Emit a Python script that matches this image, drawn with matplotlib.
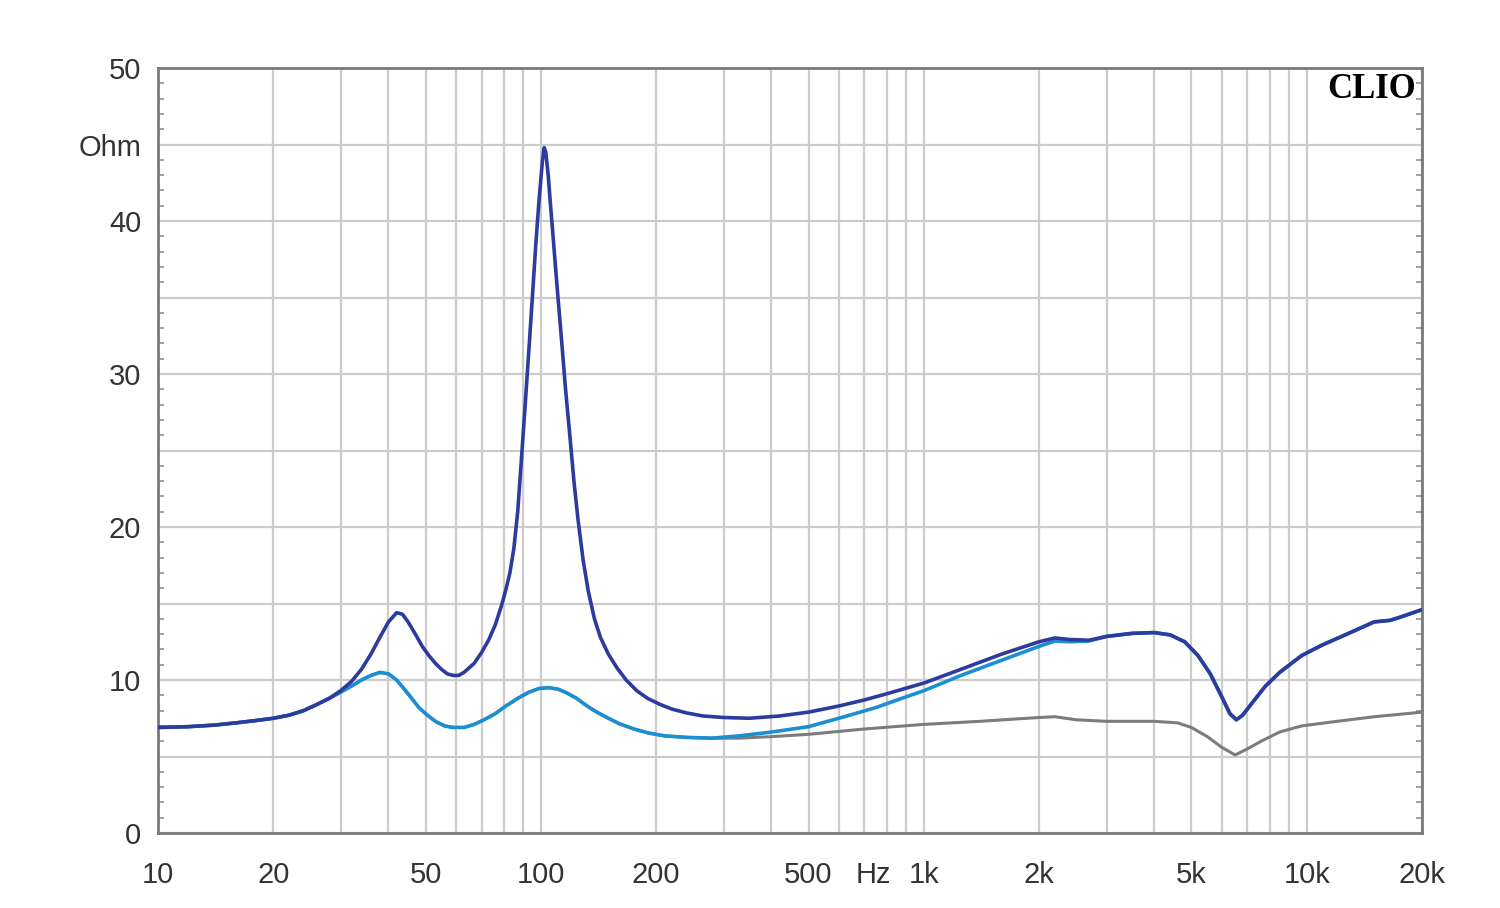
import numpy as np
import matplotlib
matplotlib.use("Agg")
from matplotlib import pyplot as plt
from matplotlib.ticker import FixedLocator, LogLocator, MultipleLocator, FuncFormatter

# impedance curves (Hz, Ohm)
freq_dark = [10, 12, 14, 16, 18, 20, 22, 24, 26, 28, 30, 32, 34, 36, 38, 40, 42, 43.5, 45, 47,
             49, 51, 53, 55, 57, 59, 61, 63, 65, 67, 70, 73, 76, 79, 81, 83, 85, 87, 89, 91, 93,
             95, 97, 99, 101, 102, 103, 104.5, 106, 108, 110, 113, 116, 119, 122, 125, 129, 133,
             138, 143, 150, 158, 167, 178, 190, 205, 220, 240, 265, 300, 350, 420, 500, 600, 700,
             800, 1000, 1250, 1600, 2000, 2200, 2400, 2700, 3000, 3500, 4000, 4400, 4800, 5200,
             5600, 6000, 6300, 6550, 6800, 7200, 7800, 8500, 9700, 11000, 13000, 15000, 16500,
             17500, 20000]
z_dark = [6.9, 6.95, 7.05, 7.2, 7.35, 7.5, 7.7, 8.0, 8.4, 8.8, 9.3, 9.9, 10.7, 11.7, 12.8, 13.8,
          14.4, 14.3, 13.8, 13.0, 12.2, 11.6, 11.1, 10.7, 10.4, 10.3, 10.3, 10.5, 10.8, 11.1, 11.8,
          12.6, 13.6, 14.9, 15.9, 17.0, 18.6, 21.0, 24.5, 28.0, 31.5, 35.0, 38.5, 41.5, 44.0, 44.8,
          44.5, 43.0, 41.0, 38.5, 36.0, 32.5, 29.0, 26.0, 23.0, 20.5, 17.8, 15.8, 14.0, 12.8, 11.7,
          10.8, 10.0, 9.3, 8.8, 8.4, 8.1, 7.85, 7.65, 7.55, 7.5, 7.65, 7.9, 8.3, 8.7, 9.1, 9.8,
          10.7, 11.7, 12.5, 12.75, 12.65, 12.6, 12.85, 13.05, 13.1, 12.95, 12.5, 11.6, 10.4, 8.9,
          7.8, 7.4, 7.7, 8.5, 9.6, 10.5, 11.6, 12.3, 13.1, 13.8, 13.9, 14.1, 14.6]

freq_light = [10, 12, 14, 16, 18, 20, 22, 24, 26, 28, 30, 32, 34, 36, 38, 40, 42, 44, 46, 48,
              50, 53, 56, 59, 63, 67, 71, 76, 81, 87, 93, 99, 105, 111, 117, 124, 132, 140, 150,
              160, 175, 190, 210, 240, 280, 330, 400, 500, 600, 750, 875, 1000, 1250, 1600, 2000,
              2200, 2400, 2700, 3000, 3500, 4000, 4400, 4800, 5200, 5600, 6000, 6300, 6550, 6800,
              7200, 7800, 8500, 9700, 11000, 13000, 15000, 16500, 17500, 20000]
z_light = [6.9, 6.95, 7.05, 7.2, 7.35, 7.5, 7.7, 8.0, 8.4, 8.8, 9.2, 9.6, 10.0, 10.3, 10.5, 10.4,
           10.0, 9.4, 8.8, 8.2, 7.8, 7.3, 7.0, 6.9, 6.9, 7.1, 7.4, 7.8, 8.3, 8.8, 9.2, 9.45, 9.5,
           9.4, 9.15, 8.8, 8.3, 7.9, 7.5, 7.15, 6.8, 6.55, 6.35, 6.25, 6.2, 6.35, 6.6, 6.95, 7.5,
           8.2, 8.8, 9.3, 10.3, 11.3, 12.2, 12.55, 12.5, 12.55, 12.85, 13.05, 13.1, 12.95, 12.5,
           11.6, 10.4, 8.9, 7.8, 7.4, 7.7, 8.5, 9.6, 10.5, 11.6, 12.3, 13.1, 13.8, 13.9, 14.1, 14.6]

freq_gray = [10, 12, 14, 16, 18, 20, 22, 24, 26, 28, 30, 32, 34, 36, 38, 40, 42, 44, 46, 48, 50,
             53, 56, 59, 63, 67, 71, 76, 81, 87, 93, 99, 105, 111, 117, 124, 132, 140, 150, 160,
             175, 190, 210, 240, 280, 330, 400, 500, 700, 1000, 1400, 2000, 2200, 2500, 3000,
             4000, 4600, 5000, 5500, 6000, 6500, 7000, 7600, 8500, 9700, 12000, 15000, 20000]
z_gray = [6.9, 6.95, 7.05, 7.2, 7.35, 7.5, 7.7, 8.0, 8.4, 8.8, 9.2, 9.6, 10.0, 10.3, 10.5, 10.4,
          10.0, 9.4, 8.8, 8.2, 7.8, 7.3, 7.0, 6.9, 6.9, 7.1, 7.4, 7.8, 8.3, 8.8, 9.2, 9.45, 9.5,
          9.4, 9.15, 8.8, 8.3, 7.9, 7.5, 7.15, 6.8, 6.55, 6.35, 6.25, 6.2, 6.2, 6.3, 6.45, 6.8,
          7.1, 7.3, 7.55, 7.6, 7.4, 7.3, 7.3, 7.2, 6.9, 6.3, 5.6, 5.1, 5.5, 6.0, 6.6, 7.0, 7.3,
          7.6, 7.9]

xtick_pos = [10, 20, 50, 100, 200, 500, 740, 1000, 2000, 5000, 10000, 20000]
xtick_lab = ['10', '20', '50', '100', '200', '500', 'Hz', '1k', '2k', '5k', '10k', '20k']

plt.rcParams['font.family'] = ['Liberation Sans', 'DejaVu Sans']

fig = plt.figure(figsize=(15, 9.08), dpi=100)
ax = fig.add_axes([0.1053, 0.0826, 0.8427, 0.8424])

ax.plot(freq_gray, z_gray, color='#7c7c7c', lw=2.2, zorder=3)
ax.plot(freq_light, z_light, color='#1b8fd2', lw=2.6, zorder=4)
ax.plot(freq_dark, z_dark, color='#2d3b9e', lw=2.6, zorder=5)

ax.set_xscale('log')
ax.set_xlim(10, 20000)
ax.set_ylim(0, 50)

# x: labels on major ticks, grid on every 1..9 multiple
ax.set_xticks(xtick_pos, xtick_lab)
ax.xaxis.set_minor_locator(LogLocator(base=10, subs=np.arange(1, 10), numticks=50))
ax.xaxis.set_minor_formatter(FuncFormatter(lambda v, p: ''))
ax.xaxis.remove_overlapping_locs = False
ax.tick_params(axis='x', which='both', length=0, pad=20, labelsize=21, labelcolor='#333333')
ax.grid(True, axis='x', which='minor', color='#cccccc', lw=1.6)
ax.grid(False, axis='x', which='major')

# y: grid every 5 ohm, labels every 10, "Ohm" at 45
def ylab(v, p):
    if abs(v - 45) < 0.01:
        return 'Ohm'
    if abs(v % 10) < 0.01:
        return '%d' % v
    return ''

ax.yaxis.set_major_locator(MultipleLocator(5))
ax.yaxis.set_major_formatter(FuncFormatter(ylab))
ax.yaxis.set_minor_locator(MultipleLocator(1))
ax.tick_params(axis='y', which='major', length=0, pad=12, labelsize=21, labelcolor='#333333')
ax.tick_params(axis='y', which='minor', direction='in', length=4, width=1.2, color='#909090',
               left=True, right=True)
ax.grid(True, axis='y', which='major', color='#cccccc', lw=1.6)

for s in ax.spines.values():
    s.set_color('#7a7a7a')
    s.set_linewidth(2.0)

ax.text(0.995, 0.993, 'CLIO', transform=ax.transAxes, ha='right', va='top',
        fontsize=25, fontweight='bold', family='Liberation Serif', color='black')

fig.savefig('out.png', dpi=100, facecolor='white')
